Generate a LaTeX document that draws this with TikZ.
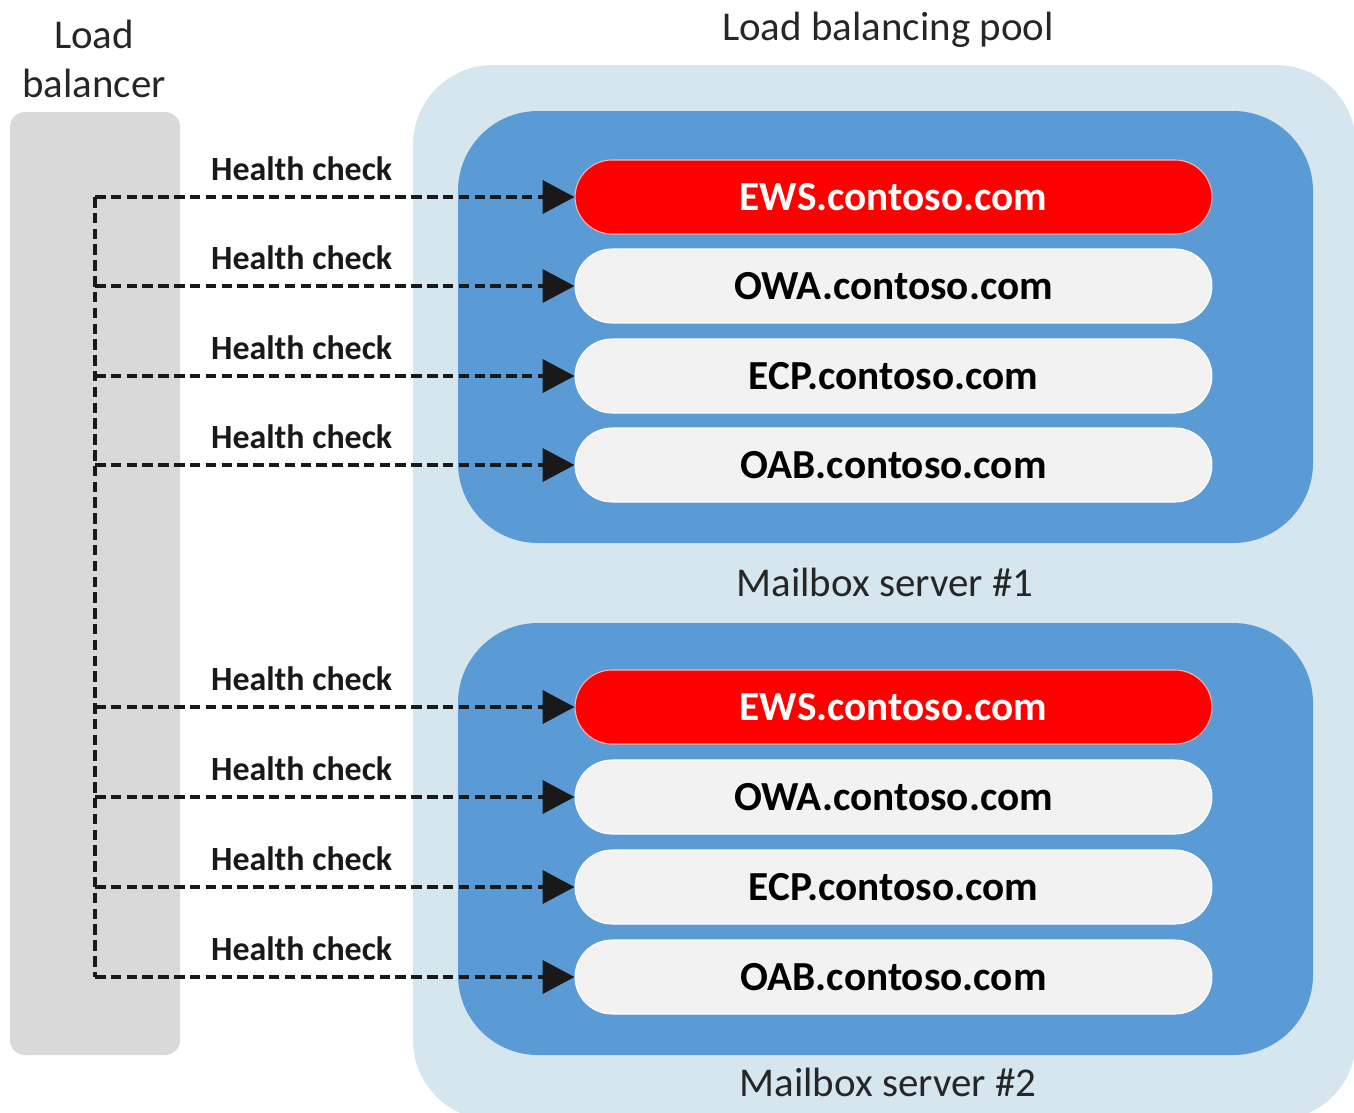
\documentclass[tikz,border=0pt]{standalone}
\usepackage{fontspec}
\setmainfont{Carlito}
\usetikzlibrary{arrows.meta}

\definecolor{lbgray}{HTML}{D9D9D9}
\definecolor{poolblue}{HTML}{D6E6EE}
\definecolor{srvblue}{HTML}{5B9BD5}
\definecolor{pillgray}{HTML}{F2F2F2}
\definecolor{pillred}{HTML}{FF0000}
\definecolor{captext}{HTML}{262626}

\tikzset{
  pill/.style={rectangle, rounded corners=0.74cm, minimum width=12.74cm, minimum height=1.48cm,
    fill=pillgray, draw=white, line width=0.6pt, text=black,
    font=\fontsize{23.5}{28}\selectfont\bfseries},
  redpill/.style={pill, fill=pillred, draw=white!70!red, text=white},
  bus/.style={draw=black!90, line width=2.2pt, dash pattern=on 6pt off 3pt},
  hc/.style={bus, -{Triangle[length=0.64cm,width=0.66cm]}},
  hclabel/.style={above, pos=0.431, inner sep=2pt, yshift=6pt, text=black!90,
    font=\fontsize{19.3}{23}\selectfont\bfseries},
  caption/.style={text=captext, font=\fontsize{23.3}{28}\selectfont}
}

\begin{document}
\begin{tikzpicture}[x=0.02cm, y=-0.02cm]
\useasboundingbox (0,0) rectangle (1354,1112);
\clip (0,0) rectangle (1354,1112);

% load balancer
\fill[lbgray, rounded corners=0.3cm] (10,112) rectangle (180,1055);
\node[caption, align=center] (lbname) at (94,59) {Load\\balancer};

% pool and the two servers
\fill[poolblue, rounded corners=1.6cm] (413,65) rectangle (1356,1120);
\node[caption] (poolname) at (888,30) {Load balancing pool};
\fill[srvblue, rounded corners=1.6cm] (458,111) rectangle (1313,543);
\fill[srvblue, rounded corners=1.6cm] (458,623) rectangle (1313,1055);
\node[caption] (srv1name) at (885,582) {Mailbox server \#1};
\node[caption] (srv2name) at (888,1082) {Mailbox server \#2};

% virtual directories, server 1
\node[redpill] (ews1) at (893.5,197) {EWS.contoso.com};
\node[pill] (owa1) at (893.5,286) {OWA.contoso.com};
\node[pill] (ecp1) at (893.5,376) {ECP.contoso.com};
\node[pill] (oab1) at (893.5,465) {OAB.contoso.com};

% virtual directories, server 2
\node[redpill] (ews2) at (893.5,707) {EWS.contoso.com};
\node[pill] (owa2) at (893.5,797) {OWA.contoso.com};
\node[pill] (ecp2) at (893.5,887) {ECP.contoso.com};
\node[pill] (oab2) at (893.5,977) {OAB.contoso.com};

% health checks
\coordinate (b1) at (95,197);
\coordinate (b2) at (95,286);
\coordinate (b3) at (95,376);
\coordinate (b4) at (95,465);
\coordinate (b5) at (95,707);
\coordinate (b6) at (95,797);
\coordinate (b7) at (95,887);
\coordinate (b8) at (95,977);
\draw[bus] (b1) -- (b8);

\draw[hc] (b1) -- node[hclabel] {Health check} (ews1.west);
\draw[hc] (b2) -- node[hclabel] {Health check} (owa1.west);
\draw[hc] (b3) -- node[hclabel] {Health check} (ecp1.west);
\draw[hc] (b4) -- node[hclabel] {Health check} (oab1.west);
\draw[hc] (b5) -- node[hclabel] {Health check} (ews2.west);
\draw[hc] (b6) -- node[hclabel] {Health check} (owa2.west);
\draw[hc] (b7) -- node[hclabel] {Health check} (ecp2.west);
\draw[hc] (b8) -- node[hclabel] {Health check} (oab2.west);
\end{tikzpicture}
\end{document}
